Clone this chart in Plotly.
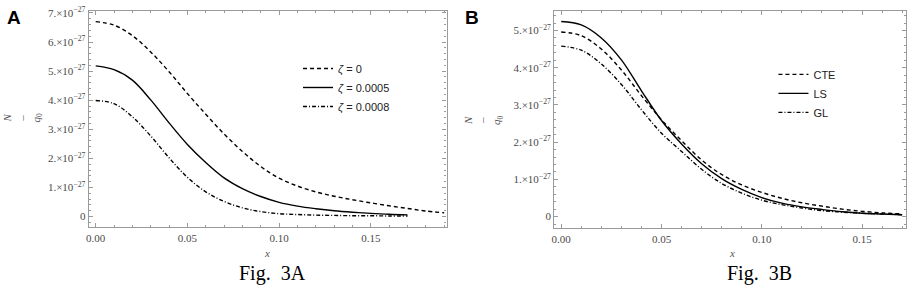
import plotly.graph_objects as go

# values are in units of 1e-27
SCALE = 1e-27

# ---- Fig. 3A : effect of zeta ----
x_a = [0.00, 0.01, 0.02, 0.03, 0.04, 0.05, 0.06, 0.07, 0.08, 0.09,
       0.10, 0.11, 0.12, 0.13, 0.14, 0.15, 0.16, 0.17, 0.18, 0.19]
n_z0 = [6.70, 6.58, 6.22, 5.66, 4.98, 4.23, 3.52, 2.84, 2.24, 1.72,
        1.32, 1.05, 0.85, 0.70, 0.58, 0.47, 0.37, 0.28, 0.19, 0.13]
n_z5 = [5.18, 5.05, 4.69, 4.01, 3.22, 2.48, 1.86, 1.33, 0.96, 0.69,
        0.49, 0.36, 0.27, 0.20, 0.15, 0.11, 0.08, 0.06]
n_z8 = [3.99, 3.88, 3.43, 2.77, 2.02, 1.35, 0.85, 0.52, 0.30, 0.17,
        0.10, 0.07, 0.05, 0.04, 0.03, 0.03, 0.02, 0.02]

# ---- Fig. 3B : CTE / LS / GL ----
x_b = [0.00, 0.01, 0.02, 0.03, 0.04, 0.05, 0.06, 0.07, 0.08, 0.09,
       0.10, 0.11, 0.12, 0.13, 0.14, 0.15, 0.16, 0.17]
n_cte = [4.96, 4.86, 4.50, 3.94, 3.25, 2.60, 2.04, 1.52, 1.13, 0.85,
         0.65, 0.49, 0.37, 0.28, 0.20, 0.14, 0.10, 0.07]
n_ls = [5.24, 5.15, 4.80, 4.21, 3.38, 2.58, 1.95, 1.42, 1.02, 0.73,
        0.51, 0.36, 0.26, 0.19, 0.13, 0.09, 0.07, 0.05]
n_gl = [4.58, 4.47, 4.10, 3.55, 2.87, 2.24, 1.75, 1.27, 0.89, 0.63,
        0.44, 0.32, 0.23, 0.16, 0.12, 0.09, 0.07, 0.05]

names_a = ["<i>ζ</i> = 0", "<i>ζ</i> = 0.0005", "<i>ζ</i> = 0.0008"]
names_b = ["CTE", "LS", "GL"]

x_ticks = [0.0, 0.05, 0.10, 0.15]
x_ticktext = ["0.00", "0.05", "0.10", "0.15"]
y_ticks_a = [0, 1, 2, 3, 4, 5, 6, 7]
y_ticks_b = [0, 1, 2, 3, 4, 5]


def sci(k):
    if k == 0:
        return "0"
    return "%d.×10<sup>−27</sup>" % k


DASH = "4px,3px"
DOTDASH = "4px,2px,1px,2px"
W = 913
H = 291


def px(p):
    return p / W


def py(p):
    return 1 - p / H


fig = go.Figure()

styles = [DASH, "solid", DOTDASH]
for ys, nm, st in zip([n_z0, n_z5, n_z8], names_a, styles):
    fig.add_trace(go.Scatter(
        x=x_a[:len(ys)], y=[v * SCALE for v in ys], mode="lines", name=nm,
        line=dict(color="black", width=1.4, dash=st, shape="spline"),
        xaxis="x", yaxis="y", legend="legend"))

for ys, nm, st in zip([n_cte, n_ls, n_gl], names_b, styles):
    fig.add_trace(go.Scatter(
        x=x_b, y=[v * SCALE for v in ys], mode="lines", name=nm,
        line=dict(color="black", width=1.4, dash=st, shape="spline"),
        xaxis="x2", yaxis="y2", legend="legend2"))

tick_font = dict(family="Liberation Serif", size=11, color="#4a4a4a")
frame = dict(showline=True, linecolor="#9a9a9a", linewidth=1.2, mirror="allticks",
             ticks="inside", ticklen=4, tickcolor="#9a9a9a", tickwidth=1,
             showgrid=False, zeroline=False, tickfont=tick_font,
             ticklabeloverflow="allow")
minor_x = dict(dtick=0.01, tick0=0, ticks="inside", ticklen=2, tickcolor="#9a9a9a")
minor_y = dict(dtick=0.2e-27, tick0=0, ticks="inside", ticklen=2, tickcolor="#9a9a9a")

fig.update_layout(
    width=W, height=H,
    margin=dict(l=0, r=0, t=0, b=0),
    paper_bgcolor="white", plot_bgcolor="white",
    xaxis=dict(domain=[px(86), px(445)], range=[-0.0038, 0.1913],
               tickvals=x_ticks, ticktext=x_ticktext, anchor="y", minor=minor_x, **frame),
    yaxis=dict(domain=[py(226), py(5)], range=[-0.37e-27, 7.07e-27],
               tickvals=[k * SCALE for k in y_ticks_a], ticktext=[sci(k) for k in y_ticks_a],
               anchor="x", minor=minor_y, **frame),
    xaxis2=dict(domain=[px(553), px(906)], range=[-0.0035, 0.1719],
                tickvals=x_ticks, ticktext=x_ticktext, anchor="y2", minor=minor_x, **frame),
    yaxis2=dict(domain=[py(227), py(5)], range=[-0.316e-27, 5.526e-27],
                tickvals=[k * SCALE for k in y_ticks_b], ticktext=[sci(k) for k in y_ticks_b],
                anchor="x2", minor=minor_y, **frame),
    legend=dict(x=px(296), y=py(49), xanchor="left", yanchor="top",
                bgcolor="rgba(0,0,0,0)", itemwidth=30, tracegroupgap=0,
                font=dict(family="Liberation Sans", size=11, color="#222")),
    legend2=dict(x=px(773), y=py(55), xanchor="left", yanchor="top",
                 bgcolor="rgba(0,0,0,0)", itemwidth=30, tracegroupgap=0,
                 font=dict(family="Liberation Sans", size=11, color="#222")),
)

ann = []
# panel letters
for txt, cx in (("<b>A</b>", 11), ("<b>B</b>", 471)):
    ann.append(dict(text=txt, x=px(cx), y=py(12),
                    font=dict(family="Liberation Sans", size=19, color="black")))

# x axis labels
for cx in (265, 731):
    ann.append(dict(text="<i>x</i>", x=px(cx), y=py(252),
                    font=dict(family="Liberation Serif", size=11, color="#555")))

# y axis labels (rotated fraction N / q0)
for cx, cy in ((20, 114), (482, 116)):
    ann.append(dict(text="<i>N</i><br>–<br><i>q</i><sub>0</sub>", x=px(cx), y=py(cy),
                    textangle=-90,
                    font=dict(family="Liberation Serif", size=11, color="#555")))

# figure captions
for txt, cx in (("Fig.  3A", 270), ("Fig.  3B", 759)):
    ann.append(dict(text=txt, x=px(cx), y=py(273),
                    font=dict(family="Liberation Serif", size=20, color="black")))

for a in ann:
    a.update(xref="paper", yref="paper", showarrow=False,
             xanchor="center", yanchor="middle")

fig.update_layout(annotations=ann)

# drop the browser's default 8px body margin so the figure fills the window
fig.write_html("out.html", config={"displayModeBar": False},
               post_script="document.body.style.margin = '0';")
